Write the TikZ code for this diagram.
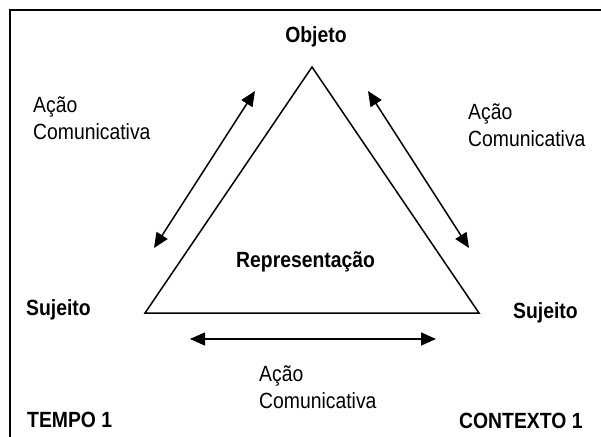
\documentclass[tikz,border=0pt]{standalone}
\usepackage{fontspec}
\setmainfont{Liberation Sans}[FakeStretch=0.88]
\usetikzlibrary{arrows.meta}
\begin{document}
\begin{tikzpicture}[x=1pt,y=-1pt,
  lbl/.style={inner sep=0pt,anchor=base west,font=\fontsize{22}{27}\selectfont},
  blbl/.style={lbl,font=\fontsize{22}{27}\selectfont\bfseries},
  multi/.style={lbl,align=left},
  tri/.style={line width=1.5pt,line join=miter},
  dbl/.style={line width=1.5pt,{Triangle[length=15pt,width=13pt]}-{Triangle[length=15pt,width=13pt]}},
  frame/.style={line width=2pt}]
\useasboundingbox (0,0) rectangle (601,436);
% frame (only top and left edges visible)
\coordinate (fbl) at (10,437);
\coordinate (ftl) at (10,10);
\coordinate (ftr) at (602,10);
\draw[frame] (fbl) -- (ftl) -- (ftr);
% triangle
\coordinate (apex) at (312,67);
\coordinate (bl) at (145,313);
\coordinate (br) at (479,313);
\draw[tri] (apex) -- (bl) -- (br) -- cycle;
% arrows
\coordinate (la1) at (154,248);
\coordinate (la2) at (255,91);
\coordinate (ra1) at (368,91);
\coordinate (ra2) at (469,248);
\coordinate (ba1) at (190,339);
\coordinate (ba2) at (436,339);
\draw[dbl] (la1) -- (la2);
\draw[dbl] (ra1) -- (ra2);
\draw[dbl] (ba1) -- (ba2);
% labels
\node[blbl,anchor=base] (obj) at (316,43) {Objeto};
\node[blbl] (sl) at (26,315) {Sujeito};
\node[blbl] (sr) at (513,318) {Sujeito};
\node[blbl] (rep) at (236,267) {Representação};
\node[blbl] (tempo) at (27,427.5) {TEMPO 1};
\node[blbl] (ctx) at (459,428.5) {CONTEXTO 1};
\node[multi] (acl) at (33,139.5) {Ação\\Comunicativa};
\node[multi] (acr) at (468,146.5) {Ação\\Comunicativa};
\node[multi] (acb) at (259,408) {Ação\\Comunicativa};
\end{tikzpicture}
\end{document}
